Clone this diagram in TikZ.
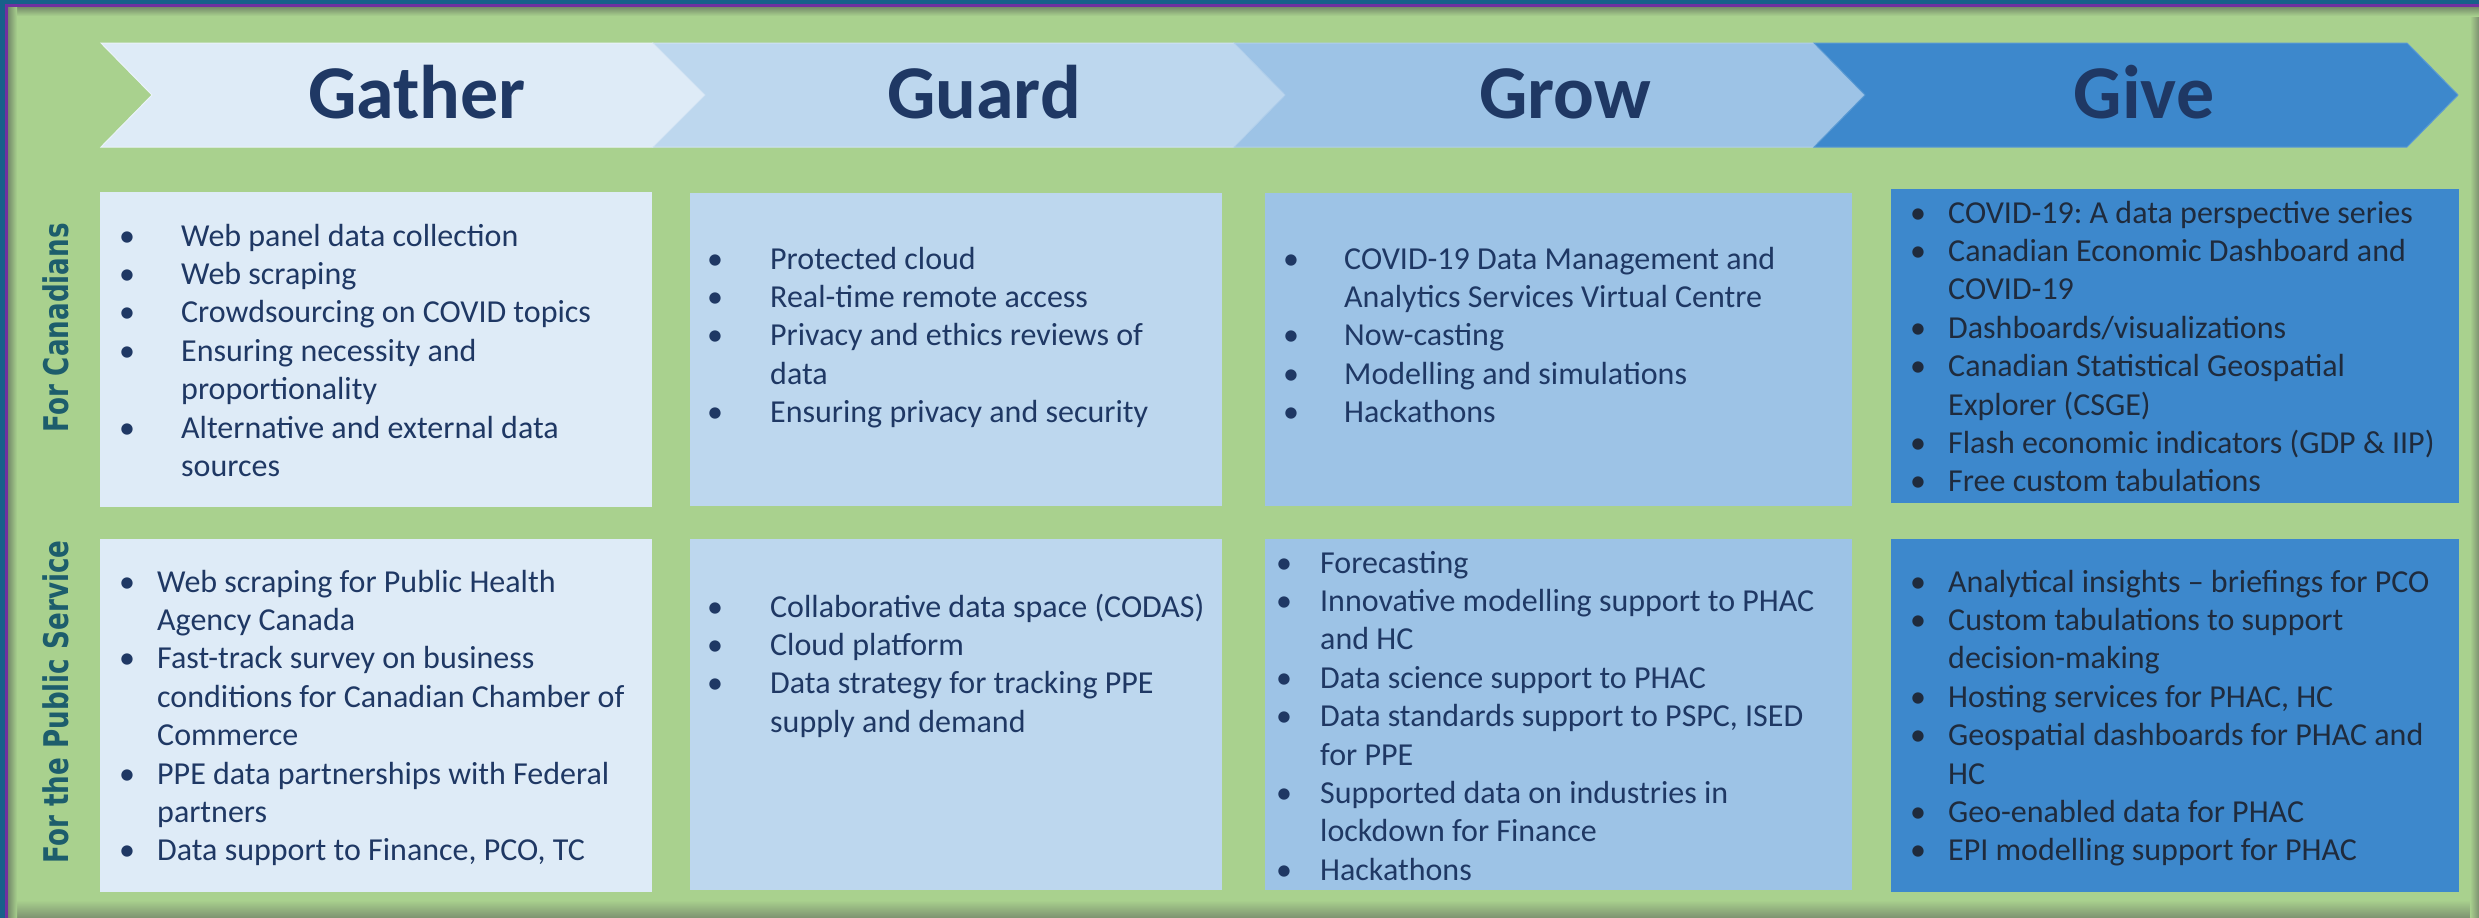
\documentclass[tikz,border=0pt]{standalone}
\usepackage{fontspec}
\setmainfont{Carlito}
\newfontfamily\sidefont[FakeStretch=0.77]{DejaVu Sans}
\frenchspacing
\definecolor{bgGreen}{HTML}{A9D18E}
\definecolor{cA}{HTML}{DEEBF7}
\definecolor{cB}{HTML}{BDD7EE}
\definecolor{cC}{HTML}{9DC3E6}
\definecolor{cD}{HTML}{3D88CC}
\definecolor{navyTxt}{HTML}{1F3864}
\definecolor{darkTxt}{HTML}{1F2B3D}
\definecolor{sideTeal}{HTML}{1D5D6C}
\definecolor{frameBlue}{HTML}{17608A}
\definecolor{framePurple}{HTML}{7030A0}
\definecolor{shadowC}{HTML}{7C9270}
\definecolor{shadowD}{HTML}{6F8466}
\newlength\bulhang
\newcommand\itm[1]{\par\hangindent=\bulhang\hangafter=1\noindent\hbox to \bulhang{\textbullet\hfil}#1}
\newcommand\bxlist[6]{%
  \node[inner sep=0pt, anchor=base west, text=#5] (#1) at (#2,#3)
    {\parbox[t]{640pt}{\frenchspacing\fontsize{32}{38.4}\selectfont\setlength\bulhang{#4pt}#6}};}
\tikzset{
  x=1pt, y=-1pt,
  chev/.style={line width=1pt},
  title/.style={inner sep=0pt, anchor=base, text=navyTxt, font=\fontsize{76}{80}\selectfont\bfseries},
  side/.style={inner sep=0pt, anchor=base, rotate=90, text=sideTeal, font=\sidefont\bfseries\fontsize{34}{40}\selectfont},
}
\begin{document}
\begin{tikzpicture}
\useasboundingbox (0,0) rectangle (2479,918);
% background and frame
\fill[bgGreen] (0,0) rectangle (2479,918);
\shade[top color=bgGreen, bottom color=shadowC] (0,900) rectangle (2479,918);
\shade[left color=bgGreen, right color=shadowC] (2470,0) rectangle (2479,918);
\shade[top color=shadowD, bottom color=bgGreen] (0,6) rectangle (2479,16);
\shade[left color=shadowD, right color=bgGreen] (7,0) rectangle (17,918);
\fill[frameBlue] (0,0) rectangle (2479,4);
\fill[frameBlue] (0,0) rectangle (5,918);
\fill[framePurple] (5,4) rectangle (2479,6.5);
\fill[framePurple] (5,4) rectangle (7.5,918);
% chevrons
\filldraw[chev, fill=cA, draw=cA!60!white] (101,43) -- (653,43) -- (705,95) -- (653,147) -- (101,147) -- (152,95) -- cycle;
\filldraw[chev, fill=cB, draw=cB!70!white] (653,43) -- (1234,43) -- (1285,95) -- (1234,147) -- (653,147) -- (705,95) -- cycle;
\filldraw[chev, fill=cC, draw=cC!80!white] (1234,43) -- (1814,43) -- (1865,95) -- (1814,147) -- (1234,147) -- (1285,95) -- cycle;
\filldraw[chev, fill=cD, draw=cD!85!white] (1814,43) -- (2407,43) -- (2458,95) -- (2407,147) -- (1814,147) -- (1865,95) -- cycle;
\node[title] (tGather) at (417,118) {Gather};
\node[title] (tGuard) at (984,118) {Guard};
\node[title] (tGrow) at (1565,118) {Grow};
\node[title] (tGive) at (2144,118) {Give};
% side labels
\node[side] (sCan) at (68,328) {For Canadians};
\node[side] (sPub) at (68,702) {For the Public Service};
% boxes
\fill[cA] (100,192) rectangle (652,507);
\fill[cB] (690,193) rectangle (1222,506);
\fill[cC] (1265,193) rectangle (1852,506);
\fill[cD] (1891,189) rectangle (2459,503);
\fill[cA] (100,539) rectangle (652,892);
\fill[cB] (690,539) rectangle (1222,890);
\fill[cC] (1265,539) rectangle (1852,890);
\fill[cD] (1891,539) rectangle (2459,892);
% texts
\bxlist{l11}{119}{246}{62}{navyTxt}{%
  \itm{Web panel data collection}
  \itm{Web scraping}
  \itm{Crowdsourcing on COVID topics}
  \itm{Ensuring necessity and\\proportionality}
  \itm{Alternative and external data\\sources}}
\bxlist{l12}{707}{269}{63}{navyTxt}{%
  \itm{Protected cloud}
  \itm{Real-time remote access}
  \itm{Privacy and ethics reviews of\\data}
  \itm{Ensuring privacy and security}}
\bxlist{l13}{1283}{269}{61}{navyTxt}{%
  \itm{COVID-19 Data Management and\\Analytics Services Virtual Centre}
  \itm{Now-casting}
  \itm{Modelling and simulations}
  \itm{Hackathons}}
\bxlist{l14}{1910}{223}{38}{darkTxt}{%
  \itm{COVID-19: A data perspective series}
  \itm{Canadian Economic Dashboard and\\COVID-19}
  \itm{Dashboards/visualizations}
  \itm{Canadian Statistical Geospatial\\Explorer (CSGE)}
  \itm{Flash economic indicators (GDP \& IIP)}
  \itm{Free custom tabulations}}
\bxlist{l21}{119}{592}{38}{navyTxt}{%
  \itm{Web scraping for Public Health\\Agency Canada}
  \itm{Fast-track survey on business\\conditions for Canadian Chamber of\\Commerce}
  \itm{PPE data partnerships with Federal\\partners}
  \itm{Data support to Finance, PCO, TC}}
\bxlist{l22}{707}{617}{63}{navyTxt}{%
  \itm{Collaborative data space (CODAS)}
  \itm{Cloud platform}
  \itm{Data strategy for tracking PPE\\supply and demand}}
\bxlist{l23}{1276}{573}{44}{navyTxt}{%
  \itm{Forecasting}
  \itm{Innovative modelling support to PHAC\\and HC}
  \itm{Data science support to PHAC}
  \itm{Data standards support to PSPC, ISED\\for PPE}
  \itm{Supported data on industries in\\lockdown for Finance}
  \itm{Hackathons}}
\bxlist{l24}{1910}{592}{38}{darkTxt}{%
  \itm{Analytical insights -- briefings for PCO}
  \itm{Custom tabulations to support\\decision-making}
  \itm{Hosting services for PHAC, HC}
  \itm{Geospatial dashboards for PHAC and\\HC}
  \itm{Geo-enabled data for PHAC}
  \itm{EPI modelling support for PHAC}}
\end{tikzpicture}
\end{document}
